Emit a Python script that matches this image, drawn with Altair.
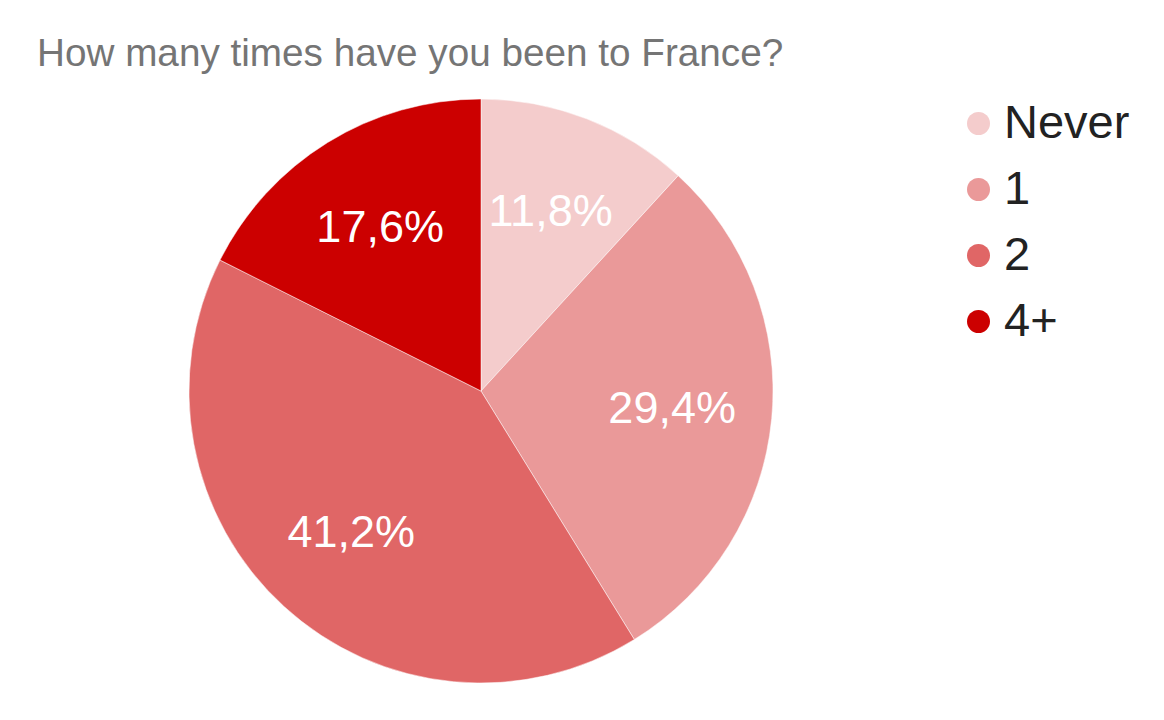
import altair as alt
import pandas as pd

categories = ["Never", "1", "2", "4+"]
percent = [11.8, 29.4, 41.2, 17.6]
colors = ["#f4cccc", "#ea9999", "#e06666", "#cc0000"]

df = pd.DataFrame({
    "answer": categories,
    "pct": percent,
    "order": list(range(len(categories))),
})
df["label"] = df["pct"].map(lambda v: f"{v:.1f}".replace(".", ",") + "%")

R = 292
FONT = "Liberation Sans"

base = alt.Chart(df).encode(
    theta=alt.Theta("pct:Q", stack=True),
    order=alt.Order("order:Q"),
)

arcs = base.mark_arc(outerRadius=R, stroke="white", strokeWidth=0.5).encode(
    color=alt.Color(
        "answer:N",
        sort=categories,
        scale=alt.Scale(domain=categories, range=colors),
        legend=alt.Legend(
            title=None,
            orient="none",
            legendX=766,
            legendY=1,
            symbolType="circle",
            symbolSize=529,
            symbolStrokeWidth=0,
            labelFontSize=47,
            labelFont=FONT,
            labelColor="#222222",
            labelOffset=2,
            rowPadding=18,
            padding=0,
        ),
    )
)
texts = base.mark_text(
    radius=192, fontSize=45, font=FONT,
    align="center", baseline="middle",
).encode(text="label:N", color=alt.value("white"))

chart = (
    (arcs + texts)
    .properties(
        width=2 * R,
        height=2 * R,
        padding={"left": 181, "top": 91, "right": 383, "bottom": 29},
        autosize=alt.AutoSizeParams(type="none"),
        title=alt.TitleParams(
            "How many times have you been to France?",
            anchor="start",
            frame="group",
            fontSize=38.7,
            font=FONT,
            fontWeight="normal",
            color="#757575",
            dx=-152,
            offset=24,
        ),
    )
    .configure_view(stroke=None)
)

chart.save("out.html", embed_options={"renderer": "svg", "actions": False})
